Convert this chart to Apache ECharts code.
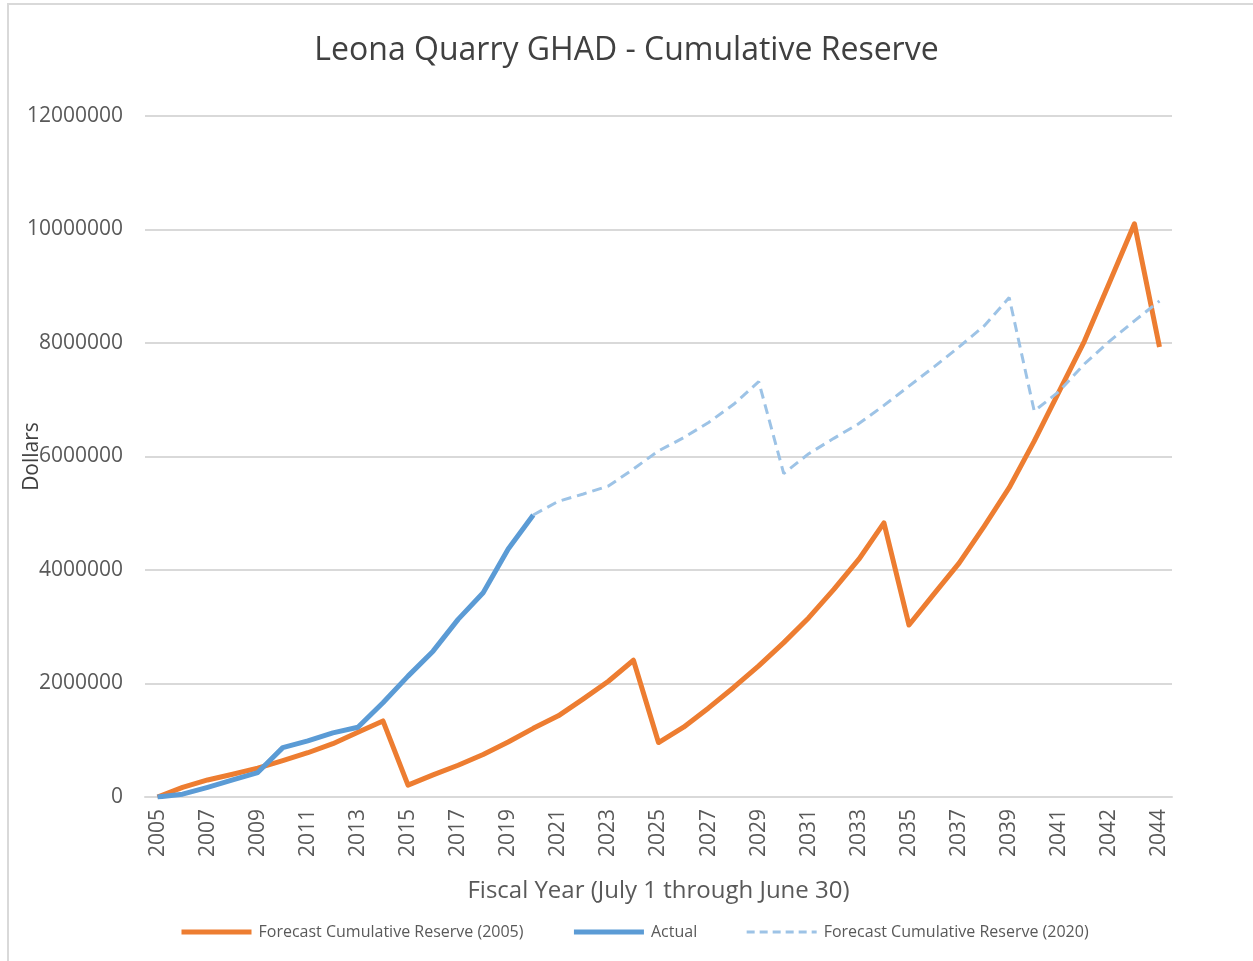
<!DOCTYPE html>
<html>
<head>
<meta charset="utf-8">
<script src="https://cdn.jsdelivr.net/npm/echarts@6/dist/echarts.min.js"></script>
<style>
    html, body { margin: 0; padding: 0; background: #fff; }
    #frame { position: absolute; left: 7px; top: 3px; width: 1260px; height: 970px;
             border-top: 2px solid #d9d9d9; border-left: 2px solid #d9d9d9; }
    #main { position: absolute; left: 0; top: 0; width: 1253px; height: 961px; }
</style>
</head>
<body>
<div id="frame"></div>
<div id="main"></div>
<script>
    // fiscal years (Excel shows every second label)
    var years = ['2005', '2006', '2007', '2008', '2009', '2010', '2011', '2012', '2013', '2014',
        '2015', '2016', '2017', '2018', '2019', '2020', '2021', '2022', '2023', '2024',
        '2025', '2026', '2027', '2028', '2029', '2030', '2031', '2032', '2033', '2034',
        '2035', '2036', '2037', '2038', '2039', '2040', '2041', '2041', '2042', '2043', '2044'];

    // Forecast Cumulative Reserve (2005)
    var forecast2005 = [0, 170000, 300000, 400000, 510000, 640000, 780000, 940000, 1140000, 1340000,
        210000, 390000, 560000, 750000, 970000, 1210000, 1430000, 1730000, 2040000, 2410000,
        960000, 1230000, 1570000, 1930000, 2310000, 2720000, 3160000, 3660000, 4190000, 4830000,
        3030000, 3580000, 4120000, 4770000, 5450000, 6270000, 7150000, 8030000, 9060000, 10100000,
        7930000];

    // Actual
    var actual = [0, 50000, 170000, 300000, 430000, 870000, 990000, 1130000, 1230000, 1660000,
        2130000, 2570000, 3130000, 3600000, 4370000, 4970000];

    // Forecast Cumulative Reserve (2020), starts where actual ends
    var forecast2020 = [null, null, null, null, null, null, null, null, null, null,
        null, null, null, null, null, 4970000, 5210000, 5340000, 5480000, 5780000,
        6100000, 6330000, 6600000, 6920000, 7320000, 5700000, 6050000, 6320000, 6580000, 6900000,
        7240000, 7580000, 7930000, 8300000, 8800000, 6800000, 7150000, 7630000, 8030000, 8390000,
        8740000];

    var font = 'Open Sans';
    var chart = echarts.init(document.getElementById('main'));
    var option = {
        backgroundColor: 'transparent',
        textStyle: { fontFamily: font },
        title: {
            text: 'Leona Quarry GHAD - Cumulative Reserve',
            left: 'center',
            top: 30,
            textStyle: { fontFamily: font, fontSize: 32, fontWeight: 'normal', color: '#404040' }
        },
        legend: {
            bottom: 16,
            left: 174,
            itemWidth: 70,
            itemHeight: 12,
            itemGap: 48,
            itemStyle: { opacity: 0 },
            textStyle: { fontFamily: font, fontSize: 16, color: '#595959', padding: [0, 0, 0, 2] },
            data: [
                { name: 'Forecast Cumulative Reserve (2005)', lineStyle: { width: 5 } },
                { name: 'Actual', lineStyle: { width: 5 } },
                { name: 'Forecast Cumulative Reserve (2020)', lineStyle: { width: 3, type: [8, 5] } }
            ]
        },
        grid: { left: 145, right: 81, top: 116, bottom: 164, containLabel: false, outerBoundsMode: 'none' },
        xAxis: {
            type: 'category',
            data: years,
            boundaryGap: true,
            name: 'Fiscal Year (July 1 through June 30)',
            nameLocation: 'middle',
            nameGap: 82,
            nameTextStyle: { fontFamily: font, fontSize: 24, color: '#595959' },
            axisLine: { lineStyle: { color: '#d9d9d9', width: 2 } },
            axisTick: { show: false },
            axisLabel: { interval: 1, rotate: 90, margin: 12, fontSize: 21, color: '#595959', fontFamily: font }
        },
        yAxis: {
            type: 'value',
            min: 0,
            max: 12000000,
            interval: 2000000,
            name: 'Dollars',
            nameLocation: 'middle',
            nameGap: 102,
            nameMoveOverlap: false,
            nameTextStyle: { fontFamily: font, fontSize: 21, color: '#404040' },
            axisLine: { show: false },
            axisTick: { show: false },
            axisLabel: {
                margin: 22, fontSize: 21, color: '#595959', fontFamily: font,
                formatter: function (v) { return String(v); }
            },
            splitLine: { lineStyle: { color: '#d9d9d9', width: 2 } }
        },
        series: [
            {
                name: 'Forecast Cumulative Reserve (2005)',
                type: 'line',
                data: forecast2005,
                symbol: 'none',
                lineStyle: { color: '#ed7d31', width: 5, join: 'round' },
                itemStyle: { color: '#ed7d31' }
            },
            {
                name: 'Actual',
                type: 'line',
                data: actual,
                symbol: 'none',
                lineStyle: { color: '#5b9bd5', width: 5, join: 'round' },
                itemStyle: { color: '#5b9bd5' }
            },
            {
                name: 'Forecast Cumulative Reserve (2020)',
                type: 'line',
                data: forecast2020,
                symbol: 'none',
                lineStyle: { color: '#9dc3e6', width: 3, type: [10, 6] },
                itemStyle: { color: '#9dc3e6' }
            }
        ]
    };
    chart.setOption(option);
</script>
</body>
</html>
